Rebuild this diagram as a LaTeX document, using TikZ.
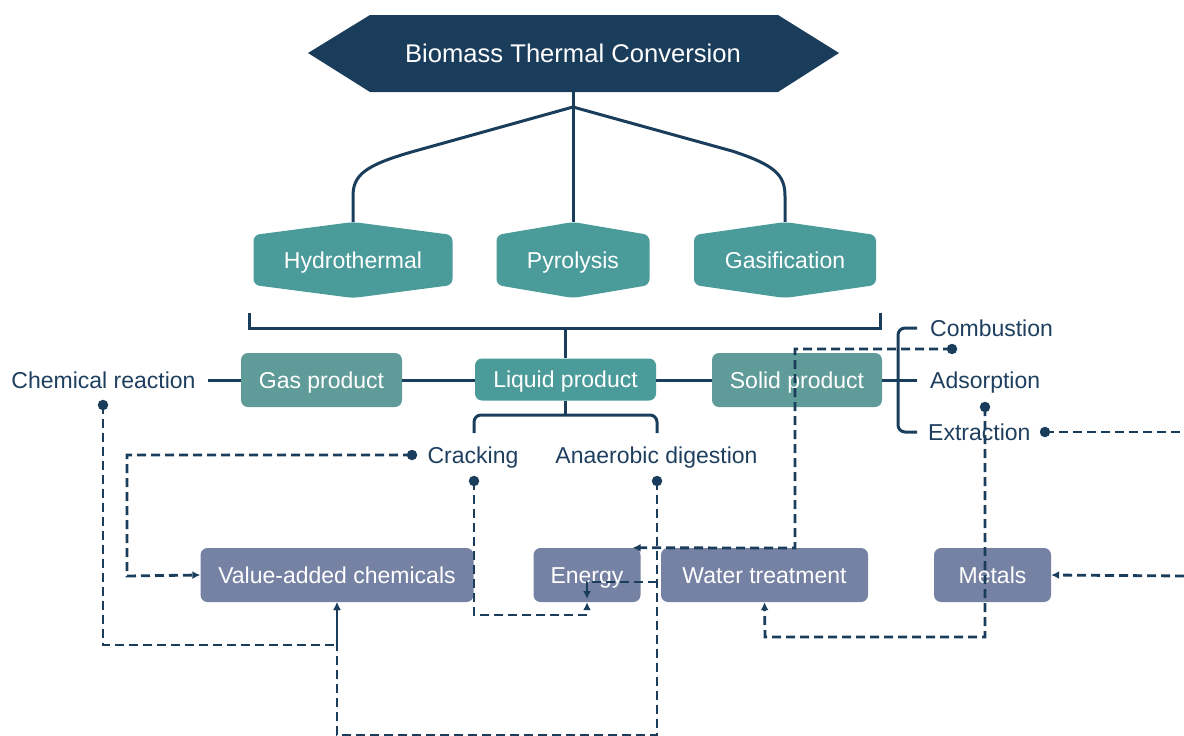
\documentclass[tikz,border=0pt]{standalone}
\usepackage{fontspec}
\setmainfont{Liberation Sans}
\usetikzlibrary{arrows.meta,calc}
\definecolor{navy}{HTML}{1B3D5C}
\definecolor{tealc}{HTML}{4B9B9B}
\definecolor{grayteal}{HTML}{5F9B98}
\definecolor{slate}{HTML}{7682A3}
\definecolor{txt}{HTML}{1E3F5F}
\newcommand{\hexnode}[5]{%
  \fill[tealc, rounded corners=6pt] (#2,#3-38) -- (#2+#4,#3-25) -- (#2+#4,#3+25) -- (#2,#3+38) -- (#2-#4,#3+25) -- (#2-#4,#3-25) -- cycle;
  \node[boxtext, minimum width=2*#4, minimum height=76] (#1) at (#2,#3) {#5};}
\tikzset{
  boxtext/.style={text=white, font=\fontsize{23}{27}\selectfont, inner sep=0pt, text height=16.5pt, text depth=0pt},
  lbl/.style={text=txt, font=\fontsize{23}{27}\selectfont, inner sep=0pt, text height=16.5pt, text depth=0pt},
  prodbox/.style={boxtext, rounded corners=7pt, minimum height=54},
  outbox/.style={boxtext, fill=slate, rounded corners=7pt, minimum height=54},
  solidln/.style={draw=navy, line width=3pt},
  dashln/.style={draw=navy, line width=2.8pt, dash pattern=on 9pt off 5pt},
  arr/.style={-{Latex[length=8pt,width=8pt]}},
  dotc/.style={fill=navy, circle, inner sep=0pt, minimum size=10.5pt},
}
\begin{document}
\begin{tikzpicture}[x=1pt,y=-1pt]
\useasboundingbox (0,0) rectangle (1184,736);
% title
\fill[navy] (308,53) -- (370,15) -- (778,15) -- (839,53) -- (778,92) -- (370,92) -- cycle;
\node[boxtext, font=\fontsize{25.6}{30}\selectfont, text height=18.3pt, minimum width=530, minimum height=77] (title) at (573,53.5) {Biomass Thermal Conversion};
% methods
\hexnode{hydro}{353}{260}{99.5}{Hydrothermal}
\hexnode{pyro}{573}{260}{76.5}{Pyrolysis}
\hexnode{gasif}{785}{260}{91}{Gasification}
\coordinate (split) at (573,107);
\draw[solidln] (title.south) -- (pyro.north);
\draw[solidln] (split) -- (415,151) .. controls (365,165) and (353,175) .. (353,196) -- (hydro.north);
\draw[solidln] (split) -- (732,151) .. controls (775,165) and (785,175) .. (785,196) -- (gasif.north);
% products
\node[prodbox, fill=grayteal, minimum width=161] (gas) at (321.5,380) {Gas product};
\node[prodbox, fill=tealc, minimum width=181, minimum height=42] (liquid) at (565.5,379.5) {Liquid product};
\node[prodbox, fill=grayteal, minimum width=170] (solid) at (797,380) {Solid product};
\node[lbl] (chem) at (103.5,380) {Chemical reaction};
\draw[solidln] (249,313) -- (249,328) -- (880,328) -- (880,313);
\draw[solidln] (565.5,328) -- (liquid.north);
\draw[solidln] ([xshift=12pt]chem.east) -- (gas.west);
\draw[solidln] (gas.east) -- (gas.east -| liquid.west);
\draw[solidln] (solid.west -| liquid.east) -- (solid.west);
% solid branches
\node[lbl, anchor=west] (comb) at (930,328) {Combustion};
\node[lbl, anchor=west] (ads) at (930,380) {Adsorption};
\node[lbl, anchor=west] (extr) at (928,432) {Extraction};
\draw[solidln, rounded corners=7pt] (917,328) -- (898,328) -- (898,432) -- (917,432);
\draw[solidln] (solid.east) -- ([xshift=-13pt]ads.west);
% liquid branches
\node[lbl] (crack) at (473,455) {Cracking};
\node[lbl] (anaer) at (656.5,455) {Anaerobic digestion};
\draw[solidln] (liquid.south) -- (565.5,415);
\draw[solidln, rounded corners=7pt] (474,433) -- (474,415) -- (657,415) -- (657,433);
% outputs
\node[outbox, minimum width=273] (vac) at (337,575) {Value-added chemicals};
\node[outbox, minimum width=107] (energy) at (587,575) {Energy};
\node[outbox, minimum width=207] (water) at (764.5,575) {Water treatment};
\node[outbox, minimum width=117] (metals) at (992.5,575) {Metals};
% dots
\node[dotc] (dchem) at (103,405) {};
\node[dotc] (dcrackL) at (412,455) {};
\node[dotc] (dcrackB) at (474,481) {};
\node[dotc] (danaer) at (657,481) {};
\node[dotc] (dcomb) at (952,349) {};
\node[dotc] (dads) at (985,407) {};
\node[dotc] (dextr) at (1045,432) {};
\coordinate (edgeA) at (1184,432);
\coordinate (edgeB) at (1184,576);
% dashed connectors
\draw[dashln, arr] (dchem.center) -- (103,645) -- (337,645) -- (vac.south);
\draw[dashln, arr] (danaer.center) -- (657,735) -- (337,735) -- (vac.south);
\draw[dashln, arr] (dcrackL.center) -- (127,455) -- (127,576) -- (vac.west);
\draw[dashln, arr] (dcrackB.center) -- (474,615) -- (587,615) -- (energy.south);
\draw[dashln, arr] (657,582) -- (587,582) -- (587,599);
\draw[dashln, arr] (dcomb.center) -- (795,349) -- (795,548) -- ([xshift=-8pt]energy.north east);
\draw[dashln, arr] (dads.center) -- (985,637) -- (765,637) -- (water.south);
\draw[dashln] (dextr.center) -- (edgeA);
\draw[dashln, arr] (edgeB) -- (metals.east);
\end{tikzpicture}
\end{document}
